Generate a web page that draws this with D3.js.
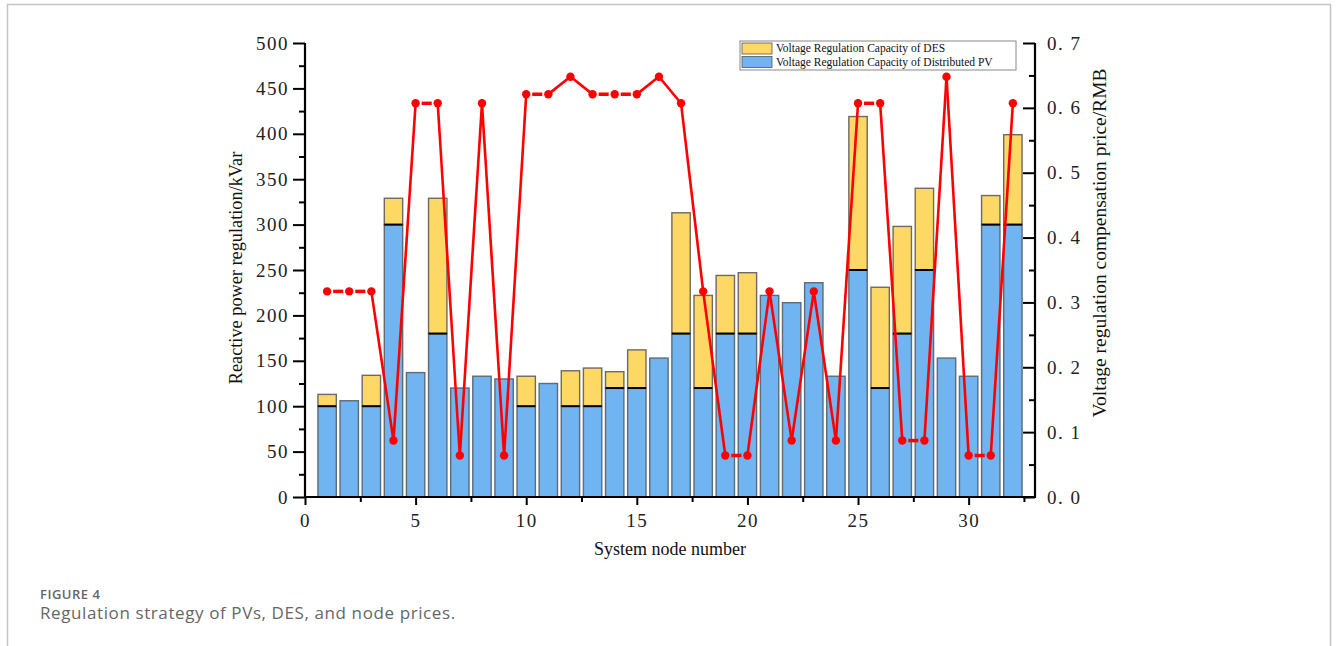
<!DOCTYPE html>
<html>
<head>
<meta charset="utf-8">
<script src="https://cdn.jsdelivr.net/npm/d3@7"></script>
<style>
  body { margin: 0; background: #fff; }
  svg { display: block; }
</style>
</head>
<body>
<script>
// node numbers on the x axis
var nodes = [1, 2, 3, 4, 5, 6, 7, 8, 9, 10, 11, 12, 13, 14, 15, 16,
  17, 18, 19, 20, 21, 22, 23, 24, 25, 26, 27, 28, 29, 30, 31, 32];
// regulation capacity of distributed PV (kVar)
var pvCap = [100, 106, 100, 300, 137, 180, 120, 133, 130, 100, 125, 100, 100, 120, 120, 153,
  180, 120, 180, 180, 222, 214, 236, 133, 250, 120, 180, 250, 153, 133, 300, 300];
// regulation capacity of DES stacked on top (kVar)
var desCap = [13, 0, 34, 29, 0, 149, 0, 0, 0, 33, 0, 39, 42, 18, 42, 0,
  133, 102, 64, 67, 0, 0, 0, 0, 169, 111, 118, 90, 0, 0, 32, 99];
// compensation price per node (RMB)
var price = [0.317, 0.317, 0.317, 0.087, 0.607, 0.607, 0.064, 0.607, 0.064, 0.621, 0.621, 0.648,
  0.621, 0.621, 0.621, 0.648, 0.607, 0.317, 0.064, 0.064, 0.317, 0.087, 0.317, 0.087,
  0.607, 0.607, 0.087, 0.087, 0.648, 0.064, 0.064, 0.607];

var leftTicks = [0, 50, 100, 150, 200, 250, 300, 350, 400, 450, 500];
var rightTicks = [0, 0.1, 0.2, 0.3, 0.4, 0.5, 0.6, 0.7];
var xTicks = [0, 5, 10, 15, 20, 25, 30];
var legendLabels = ["Voltage Regulation Capacity of DES", "Voltage Regulation Capacity of Distributed PV"];

(function () {
  var width = 1336, height = 646;
  var pLeft = 305, pRight = 1035, pTop = 43, pBottom = 497;
  var serif = "'Liberation Serif', 'Times New Roman', serif";

  var svg = d3.select("body").append("svg")
      .attr("width", width)
      .attr("height", height);

  // page frame
  svg.append("path")
      .attr("d", "M7.5,646V4.5H1330.5V646")
      .attr("fill", "none")
      .attr("stroke", "#c4c4c4")
      .attr("stroke-width", 1.5);

  var x = d3.scaleLinear().domain([0, 33]).range([pLeft, pRight]);
  var y = d3.scaleLinear().domain([0, 500]).range([pBottom, pTop]);
  var y2 = d3.scaleLinear().domain([0, 0.7]).range([pBottom, pTop]);
  var barW = (x(1) - x(0)) * 0.83;

  var rows = nodes.map(function (n, i) {
    return { node: n, pv: pvCap[i], des: desCap[i], price: price[i] };
  });

  // bars
  var bars = svg.append("g");
  bars.selectAll(".pv")
      .data(rows)
      .enter().append("rect")
      .attr("class", "pv")
      .attr("x", function (d) { return x(d.node) - barW / 2; })
      .attr("y", function (d) { return y(d.pv); })
      .attr("width", barW)
      .attr("height", function (d) { return y(0) - y(d.pv); })
      .attr("fill", "#70b4f1")
      .attr("stroke", "#5f6b76")
      .attr("stroke-width", 1.4);

  bars.selectAll(".des")
      .data(rows.filter(function (d) { return d.des > 0; }))
      .enter().append("rect")
      .attr("class", "des")
      .attr("x", function (d) { return x(d.node) - barW / 2; })
      .attr("y", function (d) { return y(d.pv + d.des); })
      .attr("width", barW)
      .attr("height", function (d) { return y(d.pv) - y(d.pv + d.des); })
      .attr("fill", "#fdd865")
      .attr("stroke", "#6e6a5e")
      .attr("stroke-width", 1.4);

  // black line where DES sits on PV
  bars.selectAll(".sep")
      .data(rows.filter(function (d) { return d.des > 0; }))
      .enter().append("line")
      .attr("x1", function (d) { return x(d.node) - barW / 2; })
      .attr("x2", function (d) { return x(d.node) + barW / 2; })
      .attr("y1", function (d) { return y(d.pv); })
      .attr("y2", function (d) { return y(d.pv); })
      .attr("stroke", "#000")
      .attr("stroke-width", 2);

  // axes
  function styleAxis(g, size) {
    g.selectAll(".domain").remove();
    g.selectAll("line").attr("stroke", "#000").attr("stroke-width", 2);
    g.selectAll("text")
        .attr("font-family", serif)
        .attr("font-size", size)
        .attr("fill", "#222");
  }

  var minorLeft = d3.range(25, 500, 50);
  var gl = svg.append("g").attr("transform", "translate(" + pLeft + ",0)");
  gl.call(d3.axisLeft(y).tickValues(minorLeft).tickSize(6).tickFormat(""));
  gl.append("g").call(d3.axisLeft(y).tickValues(leftTicks).tickSize(12).tickPadding(4));
  styleAxis(gl, 19);
  gl.selectAll("text").attr("letter-spacing", 1.5);

  var minorRight = d3.range(0.05, 0.7, 0.1);
  var gr = svg.append("g").attr("transform", "translate(" + pRight + ",0)");
  gr.call(d3.axisRight(y2).tickValues(minorRight).tickSize(-6).tickFormat(""));
  gr.append("g").call(d3.axisRight(y2).tickValues(rightTicks).tickSize(-12).tickPadding(12)
      .tickFormat(function (d) { return d3.format(".1f")(d).replace(".", ". "); }));
  styleAxis(gr, 19);
  gr.selectAll("text").attr("letter-spacing", 1.5).style("white-space", "pre");

  var minorX = d3.range(2.5, 33, 5);
  var gb = svg.append("g").attr("transform", "translate(0," + pBottom + ")");
  gb.call(d3.axisBottom(x).tickValues(minorX).tickSize(5).tickFormat(""));
  gb.append("g").call(d3.axisBottom(x).tickValues(xTicks).tickSize(8).tickPadding(9));
  styleAxis(gb, 19);
  gb.selectAll("text").attr("letter-spacing", 1.5);

  // axis lines
  svg.append("line").attr("x1", pLeft).attr("x2", pLeft).attr("y1", pTop).attr("y2", pBottom + 1)
      .attr("stroke", "#000").attr("stroke-width", 2.2);
  svg.append("line").attr("x1", pRight).attr("x2", pRight).attr("y1", pTop).attr("y2", pBottom + 1)
      .attr("stroke", "#000").attr("stroke-width", 2.2);
  svg.append("line").attr("x1", pLeft - 1).attr("x2", pRight + 1).attr("y1", pBottom).attr("y2", pBottom)
      .attr("stroke", "#000").attr("stroke-width", 2.2);

  // axis titles
  svg.append("text")
      .attr("transform", "translate(242," + ((pTop + pBottom) / 2 - 2) + ")rotate(-90)")
      .attr("text-anchor", "middle")
      .attr("font-family", serif)
      .attr("font-size", 18.3)
      .attr("fill", "#111")
      .text("Reactive power regulation/kVar");

  svg.append("text")
      .attr("transform", "translate(1106," + ((pTop + pBottom) / 2 - 27) + ")rotate(-90)")
      .attr("text-anchor", "middle")
      .attr("font-family", serif)
      .attr("font-size", 19.5)
      .attr("fill", "#111")
      .text("Voltage regulation compensation price/RMB");

  svg.append("text")
      .attr("x", 670)
      .attr("y", 555)
      .attr("text-anchor", "middle")
      .attr("font-family", serif)
      .attr("font-size", 18)
      .attr("fill", "#111")
      .text("System node number");

  // price line, drawn as segments with a small gap at each marker
  var segs = d3.pairs(rows);
  var gap = 6;
  svg.append("g").selectAll("line")
      .data(segs)
      .enter().append("line")
      .each(function (p) {
        var x0 = x(p[0].node), y0 = y2(p[0].price), x1 = x(p[1].node), y1 = y2(p[1].price);
        var len = Math.hypot(x1 - x0, y1 - y0), ux = (x1 - x0) / len, uy = (y1 - y0) / len;
        var g0 = y0 === y1 ? gap : 3;
        d3.select(this)
            .attr("x1", x0 + ux * g0).attr("y1", y0 + uy * g0)
            .attr("x2", x1 - ux * g0).attr("y2", y1 - uy * g0);
      })
      .attr("stroke", "#ff0000")
      .attr("stroke-width", function (p) { return p[0].price === p[1].price ? 3.5 : 2.6; });

  svg.append("g").selectAll("circle")
      .data(rows)
      .enter().append("circle")
      .attr("cx", function (d) { return x(d.node); })
      .attr("cy", function (d) { return y2(d.price); })
      .attr("r", 4.2)
      .attr("fill", "#ff0000");

  // legend
  var lg = svg.append("g").attr("transform", "translate(740,41)");
  lg.append("rect")
      .attr("width", 276)
      .attr("height", 29)
      .attr("fill", "#fff")
      .attr("stroke", "#888")
      .attr("stroke-width", 1);
  var swatch = ["#fdd865", "#70b4f1"];
  legendLabels.forEach(function (t, i) {
    lg.append("rect")
        .attr("x", 2)
        .attr("y", 2 + i * 13.5)
        .attr("width", 30)
        .attr("height", 11)
        .attr("fill", swatch[i])
        .attr("stroke", "#555")
        .attr("stroke-width", 0.8);
    lg.append("text")
        .attr("x", 36)
        .attr("y", 11 + i * 13.5)
        .attr("font-family", serif)
        .attr("font-size", 11.5)
        .attr("fill", "#111")
        .text(t);
  });

  // caption
  svg.append("text")
      .attr("x", 40)
      .attr("y", 599)
      .attr("font-family", "'Open Sans', sans-serif")
      .attr("font-size", 13)
      .attr("font-weight", 600)
      .attr("letter-spacing", 0.5)
      .attr("fill", "#666")
      .text("FIGURE 4");
  svg.append("text")
      .attr("x", 40)
      .attr("y", 619)
      .attr("font-family", "'Open Sans', sans-serif")
      .attr("font-size", 17)
      .attr("letter-spacing", 0.6)
      .attr("fill", "#666")
      .text("Regulation strategy of PVs, DES, and node prices.");
})();
</script>
</body>
</html>
